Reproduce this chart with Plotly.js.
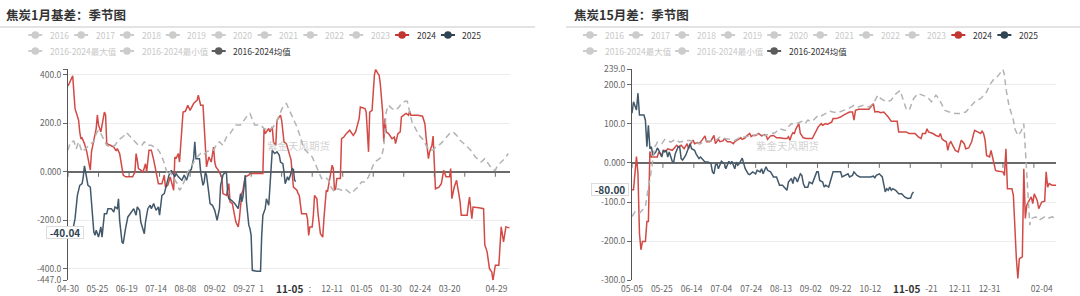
<!DOCTYPE html>
<html><head><meta charset="utf-8">
<script src="https://cdn.plot.ly/plotly-3.0.1.min.js"></script>
<style>html,body{margin:0;padding:0;background:#fff}#chart{width:1080px;height:296px}</style>
</head><body><div id="chart"></div>
<script>
// ---------- DATA (x = day offset from season start, y = value) ----------
// Left panel: 焦炭1月基差 (season starts 04-30)
// (labels next to the 11-05 pointer are only partly visible in the source: "1" and ":")
const leftTickDays = [0,25,50,75,100,125,150,165,206,225,250,275,300,325,365];
const leftTickText = ['04-30','05-25','06-19','07-14','08-08','09-02','09-27','1',':','12-11','01-05','01-30','02-24','03-20','04-29'];
const leftYTicks = [-447,-400,-200,0,200,400,422];
const leftYText = ['-447.0','-400.0','-200.0','0.000','200.0','400.0',''];

const left2024 = [[0,353],[4,395],[6,260],[7,246],[9,213],[10,164],[11,135],[12,139],[14,116],[16,82],[18,40],[19,7],[20,82],[22,131],[23,164],[24,178],[25,234],[26,193],[28,164],[29,193],[31,246],[32,234],[33,116],[36,109],[39,102],[41,86],[42,95],[44,75],[45,40],[47,-14],[49,-21],[55,-21],[57,-1],[58,75],[59,49],[60,13],[62,7],[64,-1],[66,33],[67,-1],[69,89],[71,89],[73,49],[75,-1],[77,-49],[80,-49],[82,-14],[83,-63],[85,-56],[87,-21],[90,-76],[91,61],[92,54],[94,75],[95,40],[98,246],[100,249],[102,274],[104,253],[107,281],[110,295],[111,315],[113,274],[115,274],[117,109],[118,20],[120,61],[122,40],[124,102],[125,40],[126,20],[128,7],[131,-21],[132,-90],[135,-97],[137,-49],[138,-124],[140,-131],[143,-207],[145,-227],[146,-193],[148,-90],[149,-76],[151,-21],[154,-14],[155,-7],[166,-7],[167,178],[168,157],[171,178],[172,164],[174,185],[175,123],[177,109],[178,212],[181,233],[182,212],[184,123],[186,116],[189,68],[190,49],[192,-63],[195,-76],[196,-90],[197,-97],[199,-173],[203,-173],[204,-193],[205,-262],[206,-227],[208,-227],[209,-179],[210,-97],[212,-111],[213,-173],[215,-255],[217,-269],[218,-193],[219,-111],[220,-76],[221,-83],[223,-28],[225,27],[226,13],[227,-76],[228,-70],[229,-28],[232,-28],[233,136],[235,143],[237,157],[240,171],[242,157],[243,150],[245,164],[247,205],[248,219],[249,267],[253,260],[254,246],[256,82],[257,246],[259,253],[261,398],[262,422],[264,404],[265,398],[266,363],[268,246],[269,123],[270,219],[271,164],[273,157],[276,136],[278,143],[279,116],[281,157],[283,164],[284,226],[286,233],[288,240],[290,233],[291,249],[292,233],[298,233],[302,229],[304,198],[305,143],[307,54],[308,82],[310,109],[311,147],[312,54],[313,-70],[316,-63],[318,-49],[320,6],[322,-21],[325,-21],[326,13],[327,-111],[329,-63],[331,-35],[333,-90],[334,-124],[335,-179],[340,-179],[341,-138],[342,-104],[344,-193],[345,-145],[350,-148],[354,-152],[355,-300],[357,-330],[359,-399],[361,-413],[362,-447],[364,-385],[367,-385],[369,-227],[371,-289],[373,-227],[376,-231]];

const left2025 = [[0,-241],[4,-241],[6,-193],[7,-152],[8,-97],[10,-56],[12,-49],[13,-21],[14,24],[15,-1],[17,-56],[19,-63],[20,-124],[22,-248],[23,-262],[24,-241],[26,-269],[28,-227],[29,-269],[31,-173],[33,-173],[34,-152],[37,-152],[39,-166],[40,-145],[42,-152],[43,-111],[44,-200],[46,-289],[47,-296],[49,-234],[51,-186],[53,-173],[56,-152],[58,-179],[59,-145],[61,-159],[62,-207],[65,-255],[66,-207],[68,-152],[70,-138],[71,-152],[73,-131],[75,-159],[77,-145],[78,-179],[80,-97],[82,-90],[84,-49],[86,-14],[88,6],[90,-14],[91,-21],[92,-7],[94,-21],[97,-35],[99,-14],[101,-35],[103,-1],[105,10],[107,54],[108,123],[109,54],[112,54],[113,-1],[115,-56],[116,-42],[117,-1],[118,-14],[120,-90],[121,-131],[123,-138],[124,-152],[125,-159],[127,-200],[129,-152],[130,-56],[132,-14],[134,-1],[135,-7],[136,-90],[137,-111],[139,-117],[142,-131],[145,-152],[147,-90],[148,-124],[149,-104],[151,-14],[152,-124],[154,-220],[155,-234],[156,-262],[157,-406],[161,-410],[164,-410],[165,-262],[166,-179],[168,-152],[169,-111],[171,-138],[172,-70],[174,89],[175,82],[176,75],[178,82],[180,68],[181,40],[183,33],[184,-1],[185,-49],[187,-21],[188,-35],[189,-21],[191,13],[192,10],[193,-35],[194,-40.04]];

const leftMean = [[0,89],[2,123],[5,126],[7,95],[9,123],[10,109],[12,82],[15,95],[19,116],[22,123],[24,157],[26,171],[28,157],[33,109],[37,102],[40,109],[41,116],[43,131],[47,145],[50,161],[53,145],[57,123],[60,109],[63,109],[65,123],[68,109],[71,109],[76,95],[78,82],[81,49],[83,20],[85,-14],[87,-1],[90,-28],[93,-49],[95,-76],[97,-63],[100,-28],[102,-1],[105,20],[107,40],[110,61],[113,75],[115,68],[118,82],[121,89],[124,89],[127,116],[129,123],[132,109],[135,143],[138,157],[141,178],[143,193],[147,193],[152,226],[155,240],[157,212],[159,193],[164,193],[167,178],[171,171],[175,185],[178,212],[181,246],[183,267],[186,281],[188,260],[190,240],[192,219],[195,185],[197,157],[199,130],[201,95],[205,75],[208,61],[210,40],[213,6],[216,-28],[219,-21],[222,-35],[224,-63],[227,-83],[230,-70],[233,-76],[236,-70],[239,-83],[241,-90],[244,-76],[247,-63],[250,-42],[253,-42],[256,-21],[259,13],[261,40],[264,49],[267,61],[269,102],[270,178],[271,246],[273,274],[276,260],[279,253],[282,267],[284,281],[287,290],[289,290],[291,246],[293,205],[296,178],[299,150],[303,130],[305,109],[308,89],[311,89],[313,102],[316,109],[319,123],[323,143],[325,157],[328,164],[331,150],[334,130],[337,116],[340,102],[343,89],[347,61],[349,54],[352,40],[355,54],[358,33],[361,13],[364,6],[366,27],[369,40],[372,54],[375,75]];

// Right panel: 焦炭15月差 (season starts 05-05)
// ("-21" is the visible tail of 11-21 next to the 11-05 pointer in the source)
const rightTickDays = [0,20,40,60,80,100,120,140,160,201,220,240,275];
const rightTickText = ['05-05','05-25','06-14','07-04','07-24','08-13','09-02','09-22','10-12','-21','12-11','12-31','02-04'];
const rightYTicks = [-300,-200,-100,0,100,200,239];
const rightYText = ['-300.0','-200.0','-100.0','0.000','100.0','200.0','239.0'];

const right2024 = [[0,-69],[1,-69],[3,16],[4,-27],[5,-180],[6,-222],[7,-201],[9,-201],[10,-150],[11,-150],[12,29],[13,15],[17,15],[18,28],[20,19],[21,32],[23,31],[24,36],[27,32],[28,36],[30,45],[31,41],[33,45],[35,36],[37,49],[38,36],[39,47],[41,58],[42,49],[44,52],[45,49],[47,58],[49,69],[50,54],[52,54],[53,56],[54,64],[55,70],[56,49],[58,60],[59,54],[61,56],[62,62],[64,54],[66,54],[68,49],[69,54],[71,60],[73,64],[74,60],[76,64],[77,69],[79,75],[80,67],[81,70],[83,70],[85,75],[87,69],[89,72],[90,70],[91,60],[93,69],[95,70],[97,64],[99,64],[102,62],[104,62],[105,67],[106,58],[107,70],[108,77],[109,75],[110,87],[112,100],[113,75],[115,64],[117,62],[121,62],[122,70],[124,83],[125,92],[127,100],[128,96],[130,100],[131,98],[134,104],[135,113],[137,113],[140,117],[142,122],[144,126],[146,130],[148,130],[149,109],[150,134],[152,137],[159,137],[162,151],[163,130],[165,131],[167,128],[169,130],[172,117],[174,106],[178,106],[179,79],[184,79],[186,75],[190,75],[192,67],[194,62],[195,75],[197,75],[198,87],[199,79],[202,75],[204,70],[206,67],[207,75],[208,62],[209,58],[211,54],[212,32],[213,49],[214,54],[217,32],[219,28],[220,41],[221,58],[223,49],[224,36],[226,38],[228,54],[229,70],[230,83],[232,79],[234,75],[235,81],[236,75],[237,58],[238,19],[240,15],[241,32],[242,15],[244,-19],[245,-21],[248,-23],[249,-23],[250,-32],[251,36],[252,-66],[255,-66],[256,-83],[257,-168],[258,-245],[259,-295],[260,-245],[262,-240],[263,-15],[264,-142],[265,-108],[266,-100],[268,-87],[269,-104],[270,-79],[272,-96],[273,-117],[275,-100],[277,-98],[278,-23],[279,-62],[280,-53],[282,-57],[285,-57]];

const right2025 = [[0,127],[1,156],[3,135],[4,178],[5,122],[8,122],[9,109],[10,41],[11,96],[12,36],[13,41],[14,19],[16,28],[17,38],[18,32],[20,15],[21,32],[22,28],[23,32],[24,15],[25,28],[27,4],[28,2],[29,23],[31,41],[32,41],[33,11],[34,7],[36,19],[38,41],[39,49],[40,36],[42,32],[43,23],[45,11],[46,15],[47,11],[49,2],[51,2],[53,-2],[54,-23],[55,-28],[56,-6],[57,-2],[58,-15],[60,4],[62,-2],[63,-15],[65,4],[66,-2],[67,4],[69,-15],[70,2],[71,-6],[72,-2],[74,12],[75,-2],[76,-15],[78,-28],[79,-30],[81,-23],[83,-28],[84,-19],[86,-23],[87,-15],[88,-28],[90,-10],[91,-19],[93,-23],[95,-36],[97,-36],[98,-45],[99,-57],[101,-57],[102,-62],[104,-70],[105,-49],[107,-40],[108,-53],[109,-36],[110,-40],[111,-49],[113,-28],[114,-32],[115,-53],[116,-62],[118,-62],[119,-49],[121,-53],[123,-36],[124,-23],[125,-23],[126,-45],[128,-49],[129,-62],[130,-57],[132,-62],[133,-49],[135,-23],[137,-23],[140,-23],[141,-36],[143,-32],[145,-28],[146,-36],[148,-32],[149,-23],[151,-32],[153,-36],[160,-36],[162,-34],[163,-38],[164,-32],[166,-28],[168,-36],[169,-53],[170,-74],[171,-66],[172,-70],[173,-62],[174,-70],[175,-66],[177,-70],[179,-79],[181,-79],[183,-87],[185,-91],[187,-90],[188,-79],[189,-74]];

const rightMean = [[0,-137],[2,-125],[5,-129],[9,-112],[11,-61],[12,-44],[14,7],[15,41],[16,45],[17,53],[20,49],[22,60],[26,53],[29,60],[32,53],[36,57],[39,57],[42,52],[46,49],[49,57],[52,56],[56,57],[59,66],[62,62],[66,60],[69,57],[72,64],[76,66],[79,69],[83,72],[86,75],[89,70],[93,75],[96,77],[99,87],[103,83],[105,92],[107,100],[109,98],[112,104],[114,106],[116,100],[118,109],[121,106],[123,113],[125,122],[127,120],[130,126],[133,132],[135,130],[138,128],[142,134],[145,138],[149,147],[152,143],[155,147],[159,143],[162,151],[165,173],[167,164],[171,156],[174,160],[176,173],[180,185],[182,160],[184,138],[186,134],[189,164],[192,177],[195,173],[198,169],[201,156],[204,173],[206,164],[210,134],[213,130],[217,126],[220,126],[224,130],[227,143],[229,151],[231,160],[234,164],[236,173],[238,181],[240,198],[243,215],[245,219],[247,228],[249,239],[250,224],[251,190],[253,147],[256,109],[257,87],[259,70],[261,79],[263,100],[264,36],[265,-32],[266,-100],[267,-159],[268,-142],[271,-138],[273,-147],[275,-142],[277,-138],[279,-142],[282,-138],[284,-142]];

// Legend entries
const legendRow1 = ['2016','2017','2018','2019','2020','2021','2022','2023','2024','2025'];
const legendRow1Active = [false,false,false,false,false,false,false,false,true,true];
const legendRow2 = ['2016-2024最大值','2016-2024最小值','2016-2024均值'];
const legendRow2Active = [false,false,true];

const COL24 = '#c23531', COL25 = '#2f4554', COLMEAN = '#5c5c5c';
const LINE24 = '#d24a45', LINE25 = '#42586b', LINEMEAN = '#b3b3b3';

// ---------- DRAWING ----------
const W = 1080, H = 296;
const PX = x => x / W, PY = y => 1 - y / H;
const FONT = '"Noto Sans CJK SC", "Noto Sans", sans-serif';

function trace(pairs, color, xa, ya, dash) {
  return {type:'scatter', mode:'lines', x:pairs.map(p=>p[0]), y:pairs.map(p=>p[1]),
    xaxis:xa, yaxis:ya, line:{color:color, width:1.5, dash:dash||'solid'},
    showlegend:false, hoverinfo:'skip'};
}
const data = [
  trace(left2024, LINE24, 'x', 'y'),
  trace(left2025, LINE25, 'x', 'y'),
  trace(leftMean, LINEMEAN, 'x', 'y', '6px,4px'),
  trace(right2024, LINE24, 'x2', 'y2'),
  trace(right2025, LINE25, 'x2', 'y2'),
  trace(rightMean, LINEMEAN, 'x2', 'y2', '6px,4px')
];

const yDom = [1 - 280.3 / H, 1 - 69.3 / H];
const tickFont = {family:FONT, size:8.5, color:'#666'};
function xAxis(dom, range, vals, text, anchor) {
  return {domain:dom, range:range, anchor:anchor, tickmode:'array', tickvals:vals, ticktext:text,
    ticks:'', ticklabelstandoff:2, showgrid:false, zeroline:false, showline:false, tickfont:tickFont, fixedrange:true};
}
function yAxis(range, vals, text, anchor) {
  return {domain:yDom, range:range, anchor:anchor, tickmode:'array', tickvals:vals, ticktext:text,
    ticks:'outside', ticklen:4, tickcolor:'#666', showline:true, linecolor:'#555', linewidth:1,
    gridcolor:'#ececec', gridwidth:1, zeroline:true, zerolinecolor:'#6a6a6a', zerolinewidth:1.5,
    tickfont:tickFont, fixedrange:true};
}

const shapes = [], annotations = [];
// header separators
shapes.push({type:'line', xref:'paper', yref:'paper', x0:PX(0), x1:PX(535), y0:PY(27), y1:PY(27), line:{color:'#e3e3e3', width:2}});
shapes.push({type:'line', xref:'paper', yref:'paper', x0:PX(566), x1:PX(1080), y0:PY(27), y1:PY(27), line:{color:'#e3e3e3', width:2}});

// small ticks hanging below the zero line
function zeroTicks(xref, yref, step, maxDay) {
  for (let d = 0; d <= maxDay + 0.01; d += step) {
    shapes.push({type:'line', xref:xref, yref:yref, ysizemode:'pixel', yanchor:0, x0:d, x1:d, y0:0, y1:-5, line:{color:'#6a6a6a', width:1}});
  }
}
zeroTicks('x', 'y', 26, 376.5);
zeroTicks('x2', 'y2', 20.75, 284.6);

// legends
function legend(base, step, activeCols) {
  const rows = [[legendRow1, legendRow1Active, 35, [0,1,2,3,4,5,6,7,8,9]], [legendRow2, legendRow2Active, 51, [0,2,4]]];
  rows.forEach(([names, act, yy, slots], r) => {
    names.forEach((nm, i) => {
      const x0 = base + step * slots[i];
      const col = act[i] ? activeCols[r][i] : '#cccccc';
      shapes.push({type:'line', xref:'paper', yref:'paper', x0:PX(x0), x1:PX(x0 + 14), y0:PY(yy), y1:PY(yy), line:{color:col, width:2}});
      shapes.push({type:'circle', xref:'paper', yref:'paper', x0:PX(x0 + 7 - 3.8), x1:PX(x0 + 7 + 3.8), y0:PY(yy - 3.8), y1:PY(yy + 3.8), fillcolor:col, line:{color:col, width:0}});
      annotations.push({xref:'paper', yref:'paper', x:PX(x0 + 19.5), y:PY(yy), xanchor:'left', yanchor:'middle', showarrow:false,
        text:nm, font:{family:FONT, size:8.5, color: act[i] ? '#333' : '#c8c8c8'}});
    });
  });
}
const actCols = [[null,null,null,null,null,null,null,null,COL24,COL25],[null,null,COLMEAN]];
legend(28.3, 45.85, actCols);
legend(583, 46.04, actCols);

// titles
annotations.push({xref:'paper', yref:'paper', x:PX(4), y:PY(15), xanchor:'left', yanchor:'middle', showarrow:false,
  text:'<b>焦炭1月基差：季节图</b>', font:{family:FONT, size:12.5, color:'#333'}});
annotations.push({xref:'paper', yref:'paper', x:PX(572), y:PY(15), xanchor:'left', yanchor:'middle', showarrow:false,
  text:'<b>焦炭15月差：季节图</b>', font:{family:FONT, size:12.5, color:'#333'}});

// watermarks
annotations.push({xref:'paper', yref:'paper', x:PX(265), y:PY(145), showarrow:false, text:'紫金天风期货', font:{family:FONT, size:10.5, color:'rgba(170,170,170,0.55)'}});
annotations.push({xref:'paper', yref:'paper', x:PX(821), y:PY(145), showarrow:false, text:'紫金天风期货', font:{family:FONT, size:10.5, color:'rgba(170,170,170,0.55)'}});

// axis-pointer labels
annotations.push({xref:'x', yref:'paper', x:189, y:PY(288), yanchor:'middle', showarrow:false, text:'<b>11-05</b>',
  font:{family:FONT, size:10, color:'#333'}});
annotations.push({xref:'x2', yref:'paper', x:184, y:PY(288), yanchor:'middle', showarrow:false, text:'<b>11-05</b>',
  font:{family:FONT, size:10, color:'#333'}});
annotations.push({xref:'paper', yref:'paper', x:PX(45.5), y:PY(232), yanchor:'middle', showarrow:false, text:'<b>-40.04</b>', bgcolor:'#fff', bordercolor:'#dcdcdc', borderwidth:1, width:34, height:9, borderpad:1,
  font:{family:FONT, size:10, color:'#2f4554'}});
annotations.push({xref:'paper', yref:'paper', x:PX(610), y:PY(189), yanchor:'middle', showarrow:false, text:'<b>-80.00</b>', bgcolor:'#fff', bordercolor:'#dcdcdc', borderwidth:1, width:34, height:9, borderpad:1,
  font:{family:FONT, size:10, color:'#2f4554'}});

const layout = {
  width:W, height:H, autosize:false, margin:{l:0, r:0, t:0, b:0, pad:0},
  paper_bgcolor:'#fff', plot_bgcolor:'#fff', showlegend:false,
  font:{family:FONT},
  xaxis: xAxis([68 / W, 510 / W], [0, 376.5], leftTickDays, leftTickText, 'y'),
  yaxis: yAxis([-447, 422], leftYTicks, leftYText, 'x'),
  xaxis2: xAxis([632 / W, 1056 / W], [0, 284.6], rightTickDays, rightTickText, 'y2'),
  yaxis2: yAxis([-300, 239], rightYTicks, rightYText, 'x2'),
  shapes:shapes, annotations:annotations
};
Plotly.newPlot('chart', data, layout, {staticPlot:true, displayModeBar:false});
</script></body></html>
